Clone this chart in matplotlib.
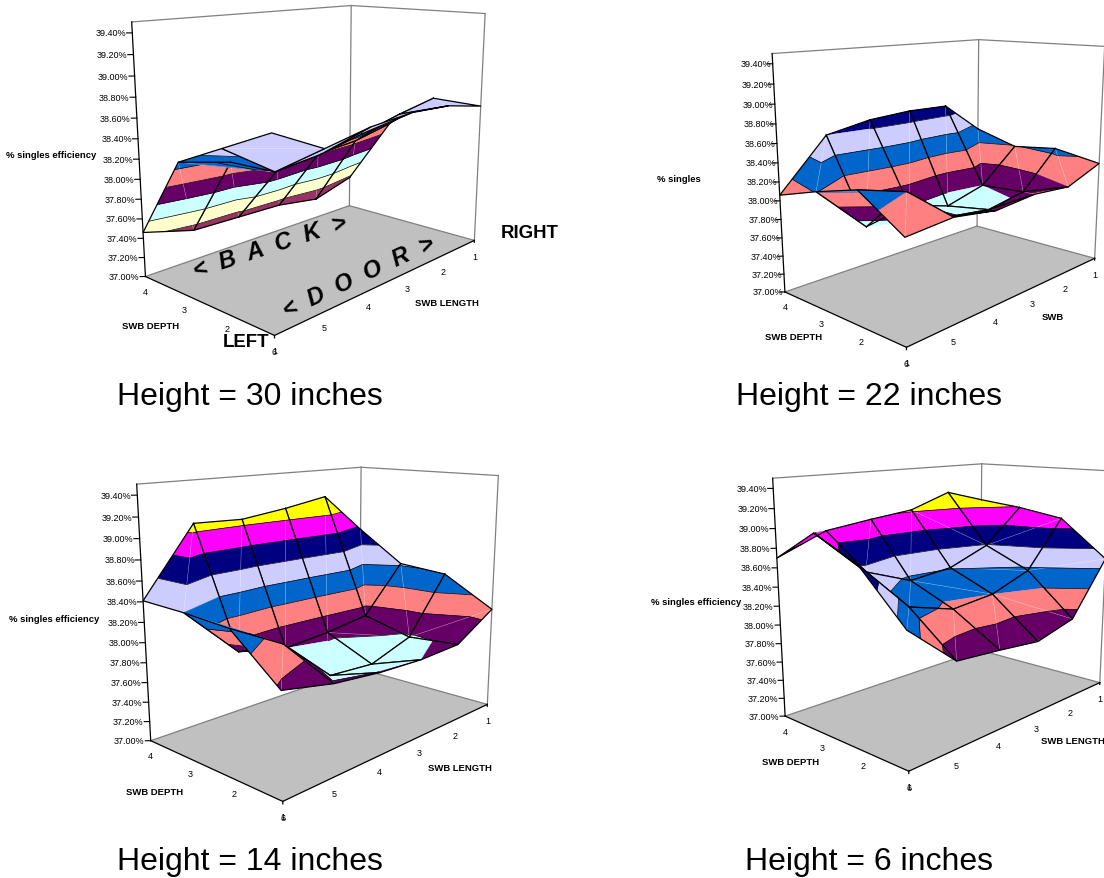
# four surface charts, one per SWB height
import numpy as np
import matplotlib
matplotlib.use("Agg")
from matplotlib import pyplot as plt
from mpl_toolkits.mplot3d import proj3d
from mpl_toolkits.mplot3d.art3d import Poly3DCollection, Line3DCollection

W, H = 1104, 879
plt.rcParams['font.family'] = ['Liberation Sans', 'DejaVu Sans']

swb_length = [1, 2, 3, 4, 5, 6]
swb_depth = [4, 3, 2, 1]
z_ticks = [37.0, 37.2, 37.4, 37.6, 37.8, 38.0, 38.2, 38.4, 38.6, 38.8, 39.0, 39.2, 39.4]
z_top = 39.5

# rows follow swb_depth, columns follow swb_length
eff_30 = [[37.37, 37.23, 37.30, 37.31, 37.32, 37.46],
          [38.15, 38.05, 38.01, 37.95, 38.16, 38.28],
          [38.53, 38.44, 38.33, 38.23, 38.18, 38.51],
          [38.52, 38.61, 38.63, 38.59, 38.50, 38.74]]
eff_22 = [[38.34, 38.71, 38.72, 38.69, 38.60, 38.06],
          [38.19, 37.80, 37.67, 37.81, 37.71, 38.21],
          [38.25, 37.83, 37.75, 37.81, 38.20, 38.34],
          [38.16, 38.00, 38.04, 38.00, 38.07, 38.03]]
eff_14 = [[38.76, 39.20, 39.12, 39.06, 39.08, 38.41],
          [38.42, 37.91, 37.84, 37.80, 37.90, 38.40],
          [38.38, 37.78, 37.62, 37.65, 38.10, 38.37],
          [38.08, 37.82, 37.80, 37.82, 37.87, 37.97]]
eff_6 = [[39.04, 39.18, 39.02, 38.97, 38.91, 38.70],
         [38.99, 38.59, 38.41, 38.36, 38.55, 39.02],
         [38.91, 38.37, 38.20, 38.15, 38.29, 38.80],
         [38.50, 37.91, 37.79, 37.84, 37.88, 38.31]]

band_edges = [37.2, 37.4, 37.6, 37.8, 38.0, 38.2, 38.4, 38.6, 38.8, 39.0, 39.2]
band_colors = ['#993366', '#FFFFCC', '#CCFFFF', '#660066', '#FF8080', '#0066CC',
               '#CCCCFF', '#000080', '#FF00FF', '#FFFF00']


def clip_z(poly, level, keep_above):
    res = []
    for k in range(len(poly)):
        a = poly[k]
        b = poly[(k + 1) % len(poly)]
        a_in = a[2] >= level if keep_above else a[2] <= level
        b_in = b[2] >= level if keep_above else b[2] <= level
        if a_in:
            res.append(a)
        if a_in != b_in:
            t = (level - a[2]) / (b[2] - a[2])
            res.append((a[0] + t * (b[0] - a[0]), a[1] + t * (b[1] - a[1]), level))
    return res


def split_cell(quad):
    # the cell folds along its flatter diagonal, the first one unless clearly worse
    a, b, c, d = quad
    if abs(b[2] - d[2]) >= 0.7 * abs(a[2] - c[2]):
        return [(a, b, c), (a, c, d)], (a, c)
    return [(a, b, d), (b, c, d)], (b, d)


def band_pieces(tri, top_band):
    polys = []
    colors = []
    lines = []
    for i in range(top_band + 1):
        p = clip_z(list(tri), band_edges[i], True)
        if len(p) > 2 and i < top_band:
            p = clip_z(p, band_edges[i + 1], False)
        if len(p) > 2:
            polys.append(p)
            colors.append(band_colors[i])
    for level in band_edges[1:top_band + 1]:
        cut = []
        for k in range(3):
            a = tri[k]
            b = tri[(k + 1) % 3]
            if (a[2] - level) * (b[2] - level) < 0:
                t = (level - a[2]) / (b[2] - a[2])
                cut.append((a[0] + t * (b[0] - a[0]), a[1] + t * (b[1] - a[1]), level))
        if len(cut) == 2:
            lines.append(cut)
    return polys, colors, lines


def surface_panel(eff, view, top_band=9, z_gap=6, flat_row=None):
    elev, azim, focal, asp_x, asp_y, cx, cy, side = view
    ax = fig.add_axes([(cx - side / 2) / W, 1 - (cy + side / 2) / H, side / W, side / H],
                      projection='3d', computed_zorder=False)
    ax.set_facecolor('none')
    ax.set_axis_off()
    ax.view_init(elev, azim)
    ax.set_proj_type('persp', focal_length=focal)
    ax.set_box_aspect((asp_x, asp_y, 1))
    ax.set_xlim(1, 6, view_margin=0)
    ax.set_ylim(4, 1, view_margin=0)
    ax.set_zlim(37, z_top, view_margin=0)

    x0, x1 = swb_length[0], swb_length[-1]
    y0, y1 = swb_depth[-1], swb_depth[0]
    z0 = z_ticks[0]

    floor = Poly3DCollection([[(x0, y0, z0), (x1, y0, z0), (x1, y1, z0), (x0, y1, z0)]],
                             facecolors='#C0C0C0', edgecolors='none', zorder=1)
    ax.add_collection3d(floor, autolim=False)

    # walls, grey at the back and black on the front edges
    grey = '#808080'
    for xs, ys, zs, c in [
        ([x1, x0], [y1, y1], [z0, z0], grey),
        ([x0, x0], [y1, y0], [z0, z0], grey),
        ([x0, x0], [y1, y1], [z0, z_top], grey),
        ([x0, x0], [y0, y0], [z0, z_top], grey),
        ([x1, x0], [y1, y1], [z_top, z_top], grey),
        ([x0, x0], [y1, y0], [z_top, z_top], grey),
        ([x1, x1], [y1, y0], [z0, z0], 'black'),
        ([x1, x0], [y0, y0], [z0, z0], 'black'),
        ([x1, x1], [y1, y1], [z0, z_top], 'black'),
        ([x1, x1], [y0, y0], [z0, z0 - 0.022], 'black'),
        ([x0, x0], [y0, y0], [z0, z0 - 0.022], 'black'),
    ]:
        ax.plot(xs, ys, zs, color=c, lw=0.9, zorder=2)

    order = 3
    for j in range(len(swb_depth) - 1):
        for i in range(len(swb_length) - 1):
            quad = [(swb_length[i], swb_depth[j], eff[j][i]),
                    (swb_length[i + 1], swb_depth[j], eff[j][i + 1]),
                    (swb_length[i + 1], swb_depth[j + 1], eff[j + 1][i + 1]),
                    (swb_length[i], swb_depth[j + 1], eff[j + 1][i])]
            tris, diag = split_cell(quad)
            polys, colors, lines = [], [], []
            if j == flat_row:
                # this row of the 30 inch chart is one plain colour in the original
                polys = [list(t) for t in tris]
                colors = [band_colors[top_band]] * len(tris)
            else:
                for tri in tris:
                    p, c, l = band_pieces(tri, top_band)
                    polys += p
                    colors += c
                    lines += l
            col = Poly3DCollection(polys, facecolors=colors, edgecolors=colors,
                                   linewidths=0.25, zorder=order)
            ax.add_collection3d(col, autolim=False)
            ax.add_collection3d(Line3DCollection([diag], colors='white', linewidths=0.4,
                                                 alpha=0.45, zorder=order + 0.2), autolim=False)
            if lines:
                ax.add_collection3d(Line3DCollection(lines, colors='black', linewidths=0.5,
                                                     zorder=order + 0.4), autolim=False)
            ring = quad + quad[:1]
            ax.plot([q[0] for q in ring], [q[1] for q in ring], [q[2] for q in ring],
                    color='black', lw=0.9, zorder=order + 0.5)
            order += 1

    M = ax.get_proj()

    def label(txt, x, y, z, dx, dy, ha='center', va='center'):
        px, py, _ = proj3d.proj_transform(x, y, z, M)
        ax.annotate(txt, xy=(px, py), xytext=(dx, dy), textcoords='offset pixels',
                    ha=ha, va=va, fontsize=6.5, annotation_clip=False, zorder=100)

    for z in z_ticks:
        ax.plot([x1, x1 + 0.06], [y1, y1 + 0.06], [z, z], color='black', lw=0.8, zorder=2)
        label('%.2f%%' % z, x1, y1, z, -z_gap, 0, ha='right')
    for v in swb_length:
        label(str(v), v, y0, z0, 0, -16)
    for d in swb_depth:
        label(str(d), x1, d, z0, 0, -15)
    return ax


def px_text(txt, x, y, **kw):
    fig.text(x / W, 1 - y / H, txt, ha='center', va='center', **kw)


fig = plt.figure(figsize=(W / 100, H / 100), dpi=100, facecolor='white')

surface_panel(eff_30, (13.411, 42.856, 0.354, 1.235, 0.734, 313.884, 148.368, 418.6), top_band=6, flat_row=2)
surface_panel(eff_22, (13.067, 42.865, 0.348, 1.244, 0.74, 943.749, 172.196, 392.975), z_gap=1.5)
surface_panel(eff_14, (13.429, 42.978, 0.352, 1.25, 0.747, 323.085, 611.58, 425.945))
surface_panel(eff_6, (12.906, 42.85, 0.354, 1.264, 0.753, 946.393, 596.47, 396.562))

for txt, x, y in [('Height = 30 inches', 250, 397), ('Height = 22 inches', 869.5, 397),
                  ('Height = 14 inches', 250, 862), ('Height = 6 inches', 869, 862)]:
    px_text(txt, x, y, fontsize=23)

for txt, x, y in [('% singles efficiency', 51, 156), ('SWB DEPTH', 150.5, 327), ('SWB LENGTH', 447, 303),
                  ('% singles', 679, 179), ('SWB DEPTH', 794, 338), ('SWB', 1052.5, 317),
                  ('% singles efficiency', 54, 620), ('SWB DEPTH', 155, 793), ('SWB LENGTH', 459.5, 769),
                  ('% singles efficiency', 696, 603), ('SWB DEPTH', 791, 763), ('SWB LENGTH', 1073, 742)]:
    px_text(txt, x, y, fontsize=6.8, fontweight='bold')

px_text('RIGHT', 530, 233, fontsize=13.4, fontweight='bold')
px_text('LEFT', 246, 343, fontsize=13.4, fontweight='bold')
px_text('<  B  A  C  K  >', 270, 247, fontsize=17, fontweight='bold', fontstyle='italic', rotation=18)
px_text('<  D  O  O  R  >', 359, 277, fontsize=17, fontweight='bold', fontstyle='italic', rotation=25)

fig.savefig('out.png', dpi=100)
